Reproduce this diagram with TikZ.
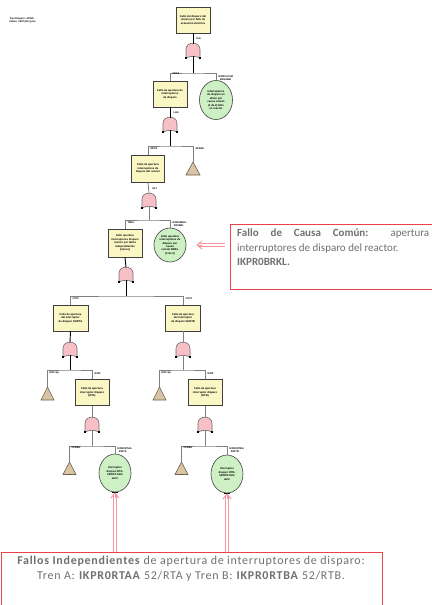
\documentclass[tikz,border=0pt]{standalone}
\usepackage{fontspec}
\setmainfont{Carlito}
\newfontfamily\labelfont{Liberation Sans}
\usetikzlibrary{arrows.meta,shapes.geometric}

\definecolor{boxfill}{RGB}{250,247,197}
\definecolor{boxline}{RGB}{64,64,64}
\definecolor{gatefill}{RGB}{247,192,198}
\definecolor{gateline}{RGB}{110,110,110}
\definecolor{circfill}{RGB}{205,240,196}
\definecolor{trifill}{RGB}{216,196,166}
\definecolor{triline}{RGB}{110,95,75}
\definecolor{connline}{RGB}{128,128,128}
\definecolor{callred}{RGB}{232,66,74}
\definecolor{arrpink}{RGB}{245,150,160}
\definecolor{calltext}{RGB}{112,112,112}

\tikzset{
  tiny/.style={font=\labelfont\fontsize{2.5}{3.0}\selectfont\bfseries, inner sep=0.3pt},
  evbox/.style={draw=boxline, fill=boxfill, line width=0.8pt, minimum width=34pt,
    minimum height=26pt, inner sep=0.5pt, align=center,
    font=\labelfont\fontsize{2.7}{3.4}\selectfont\bfseries},
  basicev/.style={ellipse, draw=boxline, fill=circfill, line width=0.6pt,
    minimum width=32pt, minimum height=36pt, inner sep=0pt, align=center,
    font=\labelfont\fontsize{2.7}{3.4}\selectfont\bfseries},
  conn/.style={draw=connline, line width=0.8pt},
  dark/.style={draw=black, line width=0.9pt},
  tri/.style={fill=trifill, draw=triline, line width=0.6pt},
  callbox/.style={draw=callred, line width=0.9pt},
  calltxt/.style={text=calltext, font=\fontsize{11}{14.5}\selectfont, inner sep=0pt},
  widetxt/.style={text=calltext, font=\addfontfeature{LetterSpace=6}\fontsize{12}{15}\selectfont, inner sep=0pt},
  pinkshaft/.style={draw=arrpink, line width=0.9pt, double=white, double distance=1.3pt},
  pinkhead/.style={draw=arrpink, line width=0.9pt,
    -{Straight Barb[length=5pt,width=8pt,line width=0.9pt]}},
  gate/.pic={
    \filldraw[fill=gatefill, draw=gateline, line width=0.6pt]
      (-7,15) -- (-7,6.5) .. controls (-7,-2) and (7,-2) .. (7,6.5) -- (7,15)
      .. controls (3,12.8) and (-3,12.8) .. (-7,15) -- cycle;
    \fill[black] (-7.6,13.6) rectangle (-6.4,15.6);
    \fill[black] (6.4,13.6) rectangle (7.6,15.6);
    \coordinate (-top) at (0,0.5);
    \coordinate (-bot) at (0,13.4);
  }
}

\begin{document}
\begin{tikzpicture}[x=1pt,y=-1pt]
\useasboundingbox[fill=white] (0,0) rectangle (431,605);

% header note
\node[tiny, anchor=north west, align=left] (hdr) at (9,17) {Tren Disparo: ATWS\\Fallos: 1997 (RL) ptos};

% ---------------- level 1 ----------------
\node[evbox] (b1) at (193,20) {Fallo del disparo del\\reactor por fallo de\\actuación eléctrica};
\pic (g1) at (193,43) {gate};
\node[tiny, anchor=west] at (196,38.5) {IAS};
\coordinate (j1) at (193,73);
\draw[dark] (b1.south) -- (g1-top);
\draw[dark] (g1-bot) -- (j1);

\node[evbox] (b2) at (170,94) {Fallo de apertura de\\interruptores\\de disparo};
\node[basicev, minimum width=33pt, minimum height=39pt] (c1) at (216,100) {Interruptores\\de disparo no\\abren por\\causa común\\(1 de 2) fallo\\en reactor};
\draw[conn] (b2.north) |- (j1) -| (c1.north);
\node[tiny, anchor=south west] at (172,75.5) {CDFA};
\node[tiny, anchor=south west, align=left] at (218,81) {IKPR0LXCM\\\ \ SRGABM};

% ---------------- level 2 ----------------
\pic (g2) at (170,117) {gate};
\node[tiny, anchor=west] at (173,113) {LAS};
\draw[dark] (b2.south) -- (g2-top);
\coordinate (j2) at (170,146);
\draw[dark] (g2-bot) -- (j2);

\node[evbox, minimum width=33pt, minimum height=27pt] (b3) at (148,168.5) {Fallo de apertura\\interruptores de\\disparo del reactor};
\coordinate (t1) at (193,162);
\filldraw[tri] (t1) -- ++(7,13) -- ++(-14,0) -- cycle;
\draw[conn] (b3.north) |- (j2) -| (t1);
\node[tiny, anchor=south west] at (150,150) {MFSF};
\node[tiny, anchor=south west] at (195,150) {SPSRE};

% ---------------- level 3 ----------------
\pic (g3) at (149,193) {gate};
\node[tiny, anchor=west] at (152,188.5) {ELT};
\draw[conn] (b3.south) -- (g3-top);
\coordinate (j3) at (149,220);
\draw[conn] (g3-bot) -- (j3);

\node[evbox, minimum height=28pt] (b4) at (125,243) {Fallo apertura\\interruptores disparo\\reactor por fallos\\independientes\\(trenes)};
\node[basicev, minimum width=32pt, minimum height=34pt] (c2) at (170,245) {Fallo apertura\\interruptores de\\disparo por\\causa\\común BRKL\\(2 de 2)};
\draw[conn] (b4.north) |- (j3) -| (c2.north);
\node[tiny, anchor=south west] at (127,224) {TMSL};
\node[tiny, anchor=south west, align=left] at (172,227.5) {IKPR0BRKL\\\ \ PR0BRL};

% ---------------- level 4 ----------------
\pic (g4) at (126,267) {gate};
\draw[dark] (b4.south) -- (g4-top);
\coordinate (j4) at (126,296);
\draw[dark] (g4-bot) -- (j4);

\node[evbox, minimum width=35pt] (b5l) at (70.5,318) {Fallo de apertura\\del interruptor\\de disparo 52/RTA};
\node[evbox, minimum width=35pt] (b5r) at (183,318) {Fallo de apertura\\del interruptor\\de disparo 52/RTB};
\draw[conn] (b5l.north) |- (j4) -| (b5r.north);
\node[tiny, anchor=south west] at (72,300.5) {CXYF};
\node[tiny, anchor=south west] at (185,300.5) {CXYZ};

% ---------------- level 5, train A ----------------
\pic (g5l) at (70,342) {gate};
\draw[dark] (b5l.south) -- (g5l-top);
\coordinate (j5l) at (70,370);
\draw[dark] (g5l-bot) -- (j5l);
\coordinate (t2l) at (47.5,387);
\filldraw[tri] (t2l) -- ++(6.5,13) -- ++(-13,0) -- cycle;
\node[evbox] (b6l) at (92,392.5) {Fallo de apertura\\interruptor disparo\\(RTA)};
\draw[conn] (t2l) |- (j5l) -| (b6l.north);
\node[tiny, anchor=south west] at (49,374.5) {RSC-Sp};
\node[tiny, anchor=south west] at (94,374.5) {IKRP};

% ---------------- level 5, train B ----------------
\pic (g5r) at (183,342) {gate};
\draw[conn] (b5r.south) -- (g5r-top);
\coordinate (j5r) at (183,370);
\draw[conn] (g5r-bot) -- (j5r);
\coordinate (t2r) at (159.5,387);
\filldraw[tri] (t2r) -- ++(6.5,13) -- ++(-13,0) -- cycle;
\node[evbox] (b6r) at (205,392.5) {Fallo de apertura\\interruptor disparo\\(RTB)};
\draw[conn] (t2r) |- (j5r) -| (b6r.north);
\node[tiny, anchor=south west] at (161,374.5) {RSC-Sp};
\node[tiny, anchor=south west] at (207,374.5) {IKRP};

% ---------------- level 6, train A ----------------
\pic (g6l) at (92,417) {gate};
\draw[conn] (b6l.south) -- (g6l-top);
\coordinate (j6l) at (92,446);
\draw[conn] (g6l-bot) -- (j6l);
\coordinate (t3l) at (69.5,462);
\filldraw[tri] (t3l) -- ++(6.5,12.5) -- ++(-13,0) -- cycle;
\node[basicev, minimum width=32pt, minimum height=38pt] (c3l) at (115,473) {Interruptor\\disparo RTA,\\52/RTA falla\\abrir};
\draw[conn] (t3l) |- (j6l) -| (c3l.north);
\draw[black, line width=1.6pt] ([xshift=-3pt]c3l.south) -- ([xshift=3pt]c3l.south);
\node[tiny, anchor=south west] at (71,449.5) {CFKBA};
\node[tiny, anchor=south west, align=left] at (117,453.5) {IKPR0RTAA\\\ \ 52RTA};

% ---------------- level 6, train B ----------------
\pic (g6r) at (205,417) {gate};
\draw[conn] (b6r.south) -- (g6r-top);
\coordinate (j6r) at (205,446);
\draw[conn] (g6r-bot) -- (j6r);
\coordinate (t3r) at (181.5,462);
\filldraw[tri] (t3r) -- ++(6.5,12.5) -- ++(-13,0) -- cycle;
\node[basicev, minimum width=32pt, minimum height=38pt] (c3r) at (227,474) {Interruptor\\disparo RTB,\\52/RTB falla\\abrir};
\draw[conn] (t3r) |- (j6r) -| (c3r.north);
\draw[black, line width=1.6pt] ([xshift=-3pt]c3r.south) -- ([xshift=3pt]c3r.south);
\node[tiny, anchor=south west] at (183,449.5) {CFKBA};
\node[tiny, anchor=south west, align=left] at (229,453.5) {IKPR0RTBA\\\ \ 52RTB};

% ---------------- common cause callout ----------------
\node[callbox, anchor=north west, minimum width=205pt, minimum height=65pt] (ccf) at (230,224) {};
\node[calltxt, anchor=north west, text width=192pt, align=justify] (ccftxt) at (237,229)
  {\textbf{Fallo de Causa Común:} apertura\linebreak interruptores de disparo del reactor.\\\textbf{IKPR0BRKL.}};
\coordinate (ccftip) at ([xshift=10pt]c2.east);
\draw[pinkshaft] ([xshift=-5pt]ccf.west |- c2.east) -- ([xshift=1.5pt]ccftip);
\draw[pinkhead] ([xshift=6pt]ccftip) -- (ccftip);

% ---------------- independent failures callout ----------------
\node[callbox, anchor=north west, minimum width=381pt, minimum height=60pt] (ind) at (0.5,552) {};
\node[widetxt, anchor=north, align=center] (indtxt) at (191,555.5)
  {\textbf{Fallos Independientes} de apertura de interruptores de disparo:\\Tren A: \textbf{IKPR0RTAA} 52/RTA y Tren B: \textbf{IKPR0RTBA} 52/RTB.};
\draw[pinkshaft] (c3l.south |- ind.north) -- ([yshift=-1.5pt]c3l.south);
\draw[pinkhead] ([yshift=-6pt]c3l.south) -- (c3l.south);
\draw[pinkshaft] (c3r.south |- ind.north) -- ([yshift=-1.5pt]c3r.south);
\draw[pinkhead] ([yshift=-6pt]c3r.south) -- (c3r.south);

\end{tikzpicture}
\end{document}
